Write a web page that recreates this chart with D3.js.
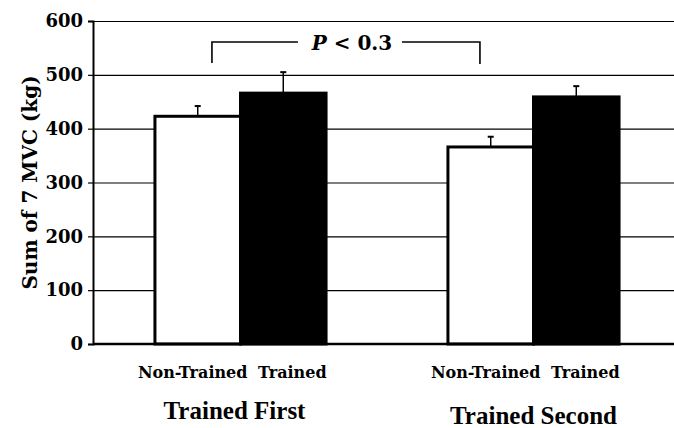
<!DOCTYPE html>
<html>
<head>
<meta charset="utf-8">
<script src="https://cdn.jsdelivr.net/npm/d3@7/dist/d3.min.js"></script>
<style>
	html, body { margin: 0; padding: 0; background: #fff; }
	svg { display: block; }
	text { font-family: "DejaVu Serif", serif; font-weight: bold; fill: #000; }
	.group-title { font-family: "Liberation Serif", "Times New Roman", serif; }
</style>
</head>
<body>
<div id="chart"></div>
<script>
	// data
	var groups = ['Trained First', 'Trained Second'];
	var conditions = ['Non-Trained', 'Trained'];
	var meanFirst = [423, 466];
	var meanSecond = [366, 459];
	var errFirst = [19, 39];
	var errSecond = [19, 20];
	var yTicks = [0, 100, 200, 300, 400, 500, 600];
	var pLabel = 'P';
	var pText = ' < 0.3';

	(function() {
		var width = 674;
		var height = 428;
		var left = 93;

		var rows = [];
		groups.forEach(function(g, gi) {
			var means = gi === 0 ? meanFirst : meanSecond;
			var errs = gi === 0 ? errFirst : errSecond;
			conditions.forEach(function(c, ci) {
				rows.push({group: g, cond: c, value: means[ci], err: errs[ci]});
			});
		});

		var svg = d3.select('#chart')
			.append('svg')
			.attr('width', width)
			.attr('height', height);

		var y = d3.scaleLinear()
			.domain([0, 600])
			.range([344, 21]);

		var x0 = d3.scaleBand()
			.domain(groups)
			.range([94, 680])
			.paddingInner(0.416)
			.paddingOuter(0.208);

		var x1 = d3.scaleBand()
			.domain(conditions)
			.range([0, x0.bandwidth()]);

		// gridlines (incl. top frame line)
		svg.append('g')
			.attr('class', 'grid')
			.attr('transform', 'translate(' + left + ',0)')
			.call(d3.axisLeft(y).tickValues(yTicks.slice(1)).tickSize(-(width - left)).tickFormat(''))
			.call(function(g) {
				g.select('.domain').remove();
				g.selectAll('line').attr('stroke', '#000').attr('stroke-width', 1.2);
			});

		// bars
		svg.append('g')
			.selectAll('rect')
			.data(rows)
			.enter().append('rect')
			.attr('x', function(d) { return x0(d.group) + x1(d.cond); })
			.attr('y', function(d) { return y(d.value); })
			.attr('width', x1.bandwidth())
			.attr('height', function(d) { return y(0) - y(d.value); })
			.attr('fill', function(d) { return d.cond === 'Trained' ? '#000' : '#fff'; })
			.attr('stroke', '#000')
			.attr('stroke-width', 3);

		// error bars (upper only)
		var eb = svg.append('g')
			.selectAll('g')
			.data(rows)
			.enter().append('g')
			.attr('transform', function(d) {
				return 'translate(' + (x0(d.group) + x1(d.cond) + x1.bandwidth() / 2) + ',0)';
			});
		eb.append('line')
			.attr('y1', function(d) { return y(d.value); })
			.attr('y2', function(d) { return y(d.value + d.err); })
			.attr('stroke', '#000')
			.attr('stroke-width', 1.5);
		eb.append('line')
			.attr('x1', -3).attr('x2', 3)
			.attr('y1', function(d) { return y(d.value + d.err); })
			.attr('y2', function(d) { return y(d.value + d.err); })
			.attr('stroke', '#000')
			.attr('stroke-width', 2);

		// y axis
		svg.append('g')
			.attr('transform', 'translate(' + left + ',0)')
			.call(d3.axisLeft(y).tickValues(yTicks).tickSize(5).tickPadding(5))
			.call(function(g) {
				g.select('.domain').attr('stroke', '#000').attr('stroke-width', 2);
				g.selectAll('line').attr('stroke', '#000').attr('stroke-width', 1.2);
				g.selectAll('text')
					.style('font-family', '"DejaVu Serif", serif')
					.style('font-weight', 'bold')
					.style('font-size', '18px');
			});

		// x axis baseline
		svg.append('line')
			.attr('x1', left).attr('x2', width)
			.attr('y1', y(0)).attr('y2', y(0))
			.attr('stroke', '#000')
			.attr('stroke-width', 2.5);

		// condition labels
		svg.append('g')
			.selectAll('text')
			.data(rows)
			.enter().append('text')
			.attr('x', function(d) {
				return x0(d.group) + x1(d.cond) + x1.bandwidth() / 2 + (d.cond === 'Trained' ? 9 : -5);
			})
			.attr('y', 378)
			.attr('text-anchor', 'middle')
			.style('font-size', '16px')
			.text(function(d) { return d.cond; });

		// group titles
		svg.append('g')
			.selectAll('text')
			.data(groups)
			.enter().append('text')
			.attr('class', 'group-title')
			.attr('x', function(d, i) { return x0(d) + x0.bandwidth() / 2 + (i === 0 ? -6 : 0); })
			.attr('y', function(d, i) { return i === 0 ? 419 : 424; })
			.attr('text-anchor', 'middle')
			.style('font-size', '25px')
			.text(function(d) { return d; });

		// y axis title
		svg.append('text')
			.attr('transform', 'translate(30,' + ((y(0) + y(600)) / 2) + ') rotate(-90)')
			.attr('text-anchor', 'middle')
			.attr('dominant-baseline', 'central')
			.style('font-size', '20px')
			.text('Sum of 7 MVC (kg)');

		// significance bracket between the two Non-Trained bars
		var bx1 = x0(groups[0]) + x1(conditions[0]) + 57;
		var bx2 = x0(groups[1]) + x1(conditions[0]) + 32;
		var by = 42;
		var bmid = (bx1 + bx2) / 2;
		var bracket = svg.append('g')
			.attr('fill', 'none')
			.attr('stroke', '#000')
			.attr('stroke-width', 1.6);
		bracket.append('path')
			.attr('d', 'M' + bx1 + ',63V' + by + 'H' + (bmid - 48));
		bracket.append('path')
			.attr('d', 'M' + (bmid + 56) + ',' + by + 'H' + bx2 + 'V64');

		var pt = svg.append('text')
			.attr('x', bmid + 6)
			.attr('y', 50)
			.attr('text-anchor', 'middle')
			.style('font-size', '20px');
		pt.append('tspan').style('font-style', 'italic').text(pLabel);
		pt.append('tspan').text(pText);
	}());
</script>
</body>
</html>
